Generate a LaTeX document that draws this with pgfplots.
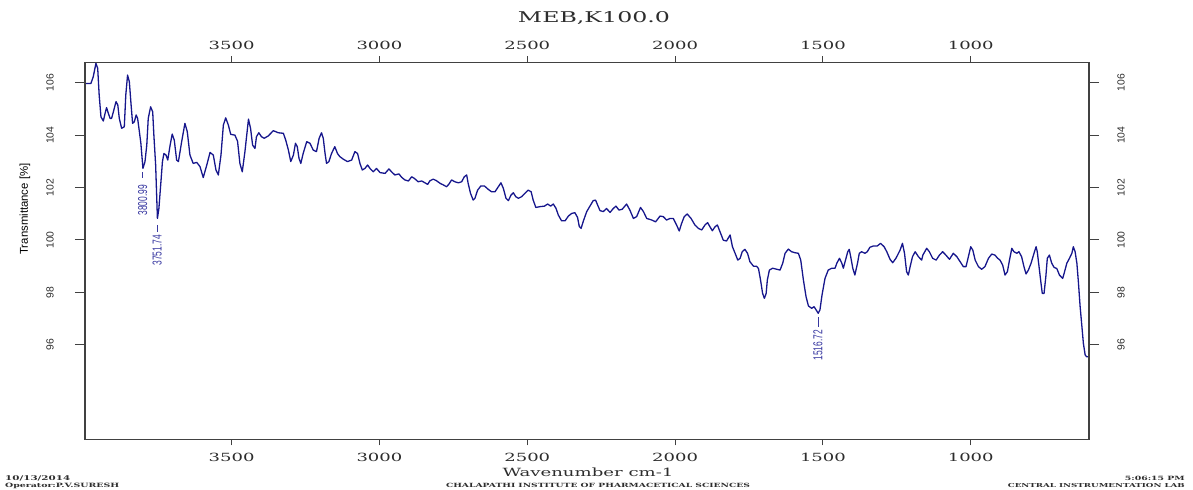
\documentclass[border=0pt]{standalone}
\usepackage{fontspec}
\setmainfont{Liberation Sans}
\newfontfamily\wserif[FakeStretch=1.6]{DejaVu Serif}
\newfontfamily\condsans[FakeStretch=0.65]{Liberation Sans}
\usepackage{graphicx}
\usepackage{pgfplots}
\pgfplotsset{compat=1.18}
\usepackage{pgfplotstable}
\definecolor{spec}{RGB}{22,22,140}
\definecolor{annot}{RGB}{55,55,160}
\definecolor{frame}{RGB}{65,65,65}
\definecolor{txt}{RGB}{45,45,45}

\pgfplotstableread{
wn T
3996 105.97
3976 105.97
3968 106.23
3959 106.74
3953 106.55
3948 105.53
3942 104.70
3934 104.54
3928 104.83
3923 105.05
3917 104.83
3911 104.64
3906 104.64
3900 104.89
3891 105.28
3885 105.15
3880 104.64
3872 104.26
3863 104.32
3858 105.53
3852 106.29
3846 106.04
3840 105.15
3835 104.45
3829 104.51
3823 104.77
3818 104.64
3812 104.13
3807 103.69
3800 102.73
3793 102.99
3787 103.62
3782 104.64
3774 105.08
3767 104.89
3763 104.00
3757 102.86
3751 100.82
3746 101.20
3740 102.09
3734 102.99
3729 103.30
3722 103.24
3716 103.05
3708 103.62
3701 104.04
3694 103.81
3686 103.05
3680 102.99
3669 103.75
3658 104.45
3650 104.13
3641 103.24
3630 102.92
3618 102.96
3607 102.80
3596 102.38
3584 102.86
3573 103.34
3562 103.24
3553 102.67
3545 102.48
3536 103.24
3528 104.38
3520 104.66
3511 104.38
3503 104.03
3489 104.00
3480 103.77
3472 102.92
3464 102.60
3455 103.37
3443 104.61
3436 104.26
3429 103.62
3421 103.49
3416 103.94
3408 104.09
3399 103.94
3390 103.88
3376 103.97
3359 104.17
3342 104.09
3325 104.07
3317 103.81
3308 103.43
3300 102.99
3291 103.24
3284 103.69
3278 103.56
3272 103.11
3266 102.92
3258 103.30
3246 103.75
3235 103.69
3224 103.43
3213 103.37
3204 103.88
3196 104.09
3190 103.88
3184 103.30
3179 102.92
3171 102.99
3162 103.30
3151 103.56
3142 103.30
3134 103.18
3122 103.08
3108 102.99
3094 103.05
3083 103.37
3074 103.30
3066 102.92
3058 102.67
3049 102.73
3040 102.86
3032 102.73
3021 102.60
3010 102.73
2998 102.57
2981 102.54
2968 102.71
2959 102.60
2948 102.48
2934 102.52
2925 102.39
2914 102.29
2902 102.25
2891 102.41
2882 102.35
2869 102.22
2857 102.25
2846 102.18
2837 102.12
2829 102.26
2818 102.32
2807 102.26
2795 102.16
2784 102.10
2773 102.03
2765 102.13
2756 102.29
2745 102.22
2733 102.18
2722 102.22
2713 102.41
2705 102.48
2700 102.16
2692 101.78
2683 101.52
2677 101.59
2668 101.90
2657 102.06
2645 102.06
2632 101.93
2621 101.84
2609 101.84
2598 102.03
2589 102.18
2581 101.97
2572 101.59
2564 101.50
2555 101.71
2547 101.80
2539 101.65
2530 101.59
2519 101.65
2508 101.78
2497 101.90
2487 101.84
2480 101.52
2471 101.24
2457 101.27
2442 101.29
2431 101.37
2421 101.29
2412 101.37
2403 101.21
2395 100.95
2384 100.73
2372 100.73
2361 100.91
2350 101.01
2339 101.04
2330 100.86
2324 100.51
2318 100.44
2310 100.73
2299 101.08
2288 101.29
2277 101.50
2269 101.52
2262 101.33
2254 101.12
2243 101.08
2232 101.20
2220 101.05
2209 101.20
2200 101.29
2190 101.14
2179 101.17
2164 101.37
2153 101.14
2141 100.82
2130 100.89
2117 101.24
2107 101.08
2096 100.82
2079 100.76
2066 100.69
2051 100.91
2040 100.89
2029 100.76
2017 100.82
2006 100.82
1995 100.57
1986 100.34
1978 100.63
1969 100.89
1959 100.99
1946 100.82
1933 100.57
1921 100.44
1910 100.38
1899 100.57
1890 100.66
1882 100.50
1874 100.35
1865 100.50
1857 100.57
1848 100.31
1837 99.99
1826 99.96
1814 100.19
1806 99.74
1797 99.49
1788 99.23
1780 99.30
1773 99.55
1764 99.64
1755 99.49
1747 99.17
1735 99.00
1724 98.99
1718 98.91
1711 98.47
1704 97.96
1698 97.77
1692 97.96
1688 98.47
1681 98.85
1670 98.92
1656 98.88
1645 98.85
1636 99.11
1628 99.49
1617 99.65
1606 99.55
1594 99.51
1583 99.49
1575 99.23
1566 98.47
1557 97.83
1549 97.48
1538 97.39
1530 97.45
1523 97.33
1516 97.20
1510 97.33
1503 97.90
1493 98.53
1482 98.85
1470 98.92
1459 98.92
1453 99.11
1444 99.30
1436 99.11
1431 98.92
1425 99.17
1416 99.55
1411 99.64
1406 99.36
1399 98.92
1392 98.66
1383 99.11
1377 99.49
1369 99.55
1358 99.49
1350 99.55
1341 99.72
1329 99.77
1316 99.77
1305 99.87
1293 99.74
1284 99.55
1273 99.26
1264 99.13
1253 99.30
1239 99.61
1231 99.87
1224 99.49
1217 98.79
1211 98.66
1205 98.98
1197 99.36
1188 99.55
1177 99.36
1166 99.23
1162 99.42
1149 99.68
1140 99.55
1129 99.30
1117 99.23
1106 99.42
1095 99.55
1084 99.42
1072 99.26
1059 99.49
1047 99.36
1036 99.17
1025 98.98
1016 98.98
1008 99.36
1000 99.74
993 99.61
985 99.23
974 98.98
963 98.88
952 98.98
940 99.30
929 99.46
918 99.42
909 99.30
901 99.23
892 99.04
884 98.66
876 98.79
869 99.23
861 99.68
854 99.55
844 99.49
837 99.55
828 99.36
820 98.98
813 98.70
805 98.85
796 99.11
786 99.49
779 99.74
775 99.55
769 98.98
763 98.41
758 97.96
752 97.96
746 98.60
741 99.30
734 99.42
726 99.11
718 98.95
709 98.91
700 98.66
689 98.53
684 98.73
675 99.11
666 99.30
658 99.49
653 99.74
647 99.55
641 99.11
636 98.41
630 97.45
625 96.82
619 96.05
613 95.61
608 95.54
600 95.54
}\spectrum

\pgfplotsset{
  irbase/.style={
    scale only axis, width=1004bp, height=377bp,
    at={(0,0)}, anchor=south west,
    xmin=600, xmax=3996, ymin=92.39, ymax=106.78,
    x dir=reverse,
    xtick={1000,1500,2000,2500,3000,3500},
    xticklabels={1000,1500,2000,2500,3000,3500},
    ytick={96,98,100,102,104,106},
    yticklabels={96,98,100,102,104,106},
    tick align=outside,
    xtick pos=both, ytick pos=both,
    axis line style={frame, line width=1.3bp},
    tick style={frame, line width=1bp},
    xticklabel style={font=\wserif\fontsize{11.3}{12}\selectfont, text=txt},
    yticklabel style={font=\fontsize{10.4}{11}\selectfont, text=txt},
  }
}

\begin{document}
\begin{tikzpicture}
\begin{axis}[irbase, name=main,
  major tick length=6bp,
  ytick style={draw=none},
  xticklabel pos=lower, yticklabel pos=left,
  xticklabel style={yshift=-4bp},
  yticklabel style={xshift=-29bp, rotate=90, anchor=center},
]
\addplot[spec, line width=1.3bp, line join=round] table[x=wn, y=T] {\spectrum};
% peak annotations
\draw[annot, line width=0.9bp] (axis cs:3800.99,102.59) -- (axis cs:3800.99,102.36);
\node[annot, rotate=90, anchor=east, inner sep=0pt, font=\condsans\fontsize{13}{14}\selectfont] at (axis cs:3800.99,102.10) {3800.99};
\draw[annot, line width=0.9bp] (axis cs:3751.74,100.57) -- (axis cs:3751.74,100.30);
\node[annot, rotate=90, anchor=east, inner sep=0pt, font=\condsans\fontsize{13}{14}\selectfont] at (axis cs:3751.74,100.19) {3751.74};
\draw[annot, line width=0.9bp] (axis cs:1516.72,97.05) -- (axis cs:1516.72,96.67);
\node[annot, rotate=90, anchor=east, inner sep=0pt, font=\condsans\fontsize{13}{14}\selectfont] at (axis cs:1516.72,96.56) {1516.72};
\end{axis}
\begin{axis}[irbase,
  major tick length=10bp,
  xtick style={draw=none},
  xticklabel pos=upper, yticklabel pos=right,
  xticklabel style={yshift=-1bp},
  yticklabel style={xshift=22bp, rotate=90, anchor=center},
]
\end{axis}
% titles and footer text
\node[anchor=center, text=txt] at ([shift={(509bp,421.3bp)}]main.south west) {\resizebox{152bp}{!}{\wserif MEB,K100.0}};
\node[anchor=center, text=txt] at ([shift={(503bp,-33bp)}]main.south west) {\resizebox{171bp}{!}{\wserif Wavenumber cm-1}};
\node[rotate=90, anchor=center, text=black, font=\fontsize{11.4}{12}\selectfont] at ([shift={(-60bp,230.3bp)}]main.south west) {Transmittance [\%]};
\node[anchor=west, inner sep=0pt, text=txt] at ([shift={(-80bp,-38.7bp)}]main.south west) {\resizebox{65bp}{!}{\wserif\bfseries 10/13/2014}};
\node[anchor=west, inner sep=0pt, text=txt] at ([shift={(-80bp,-46.5bp)}]main.south west) {\resizebox{114bp}{!}{\wserif\bfseries Operator:P.V.SURESH}};
\node[anchor=center, inner sep=0pt, text=txt] at ([shift={(513bp,-46.5bp)}]main.south west) {\resizebox{304bp}{!}{\wserif\bfseries CHALAPATHI INSTITUTE OF PHARMACETICAL SCIENCES}};
\node[anchor=east, inner sep=0pt, text=txt] at ([shift={(1100bp,-38.7bp)}]main.south west) {\resizebox{60bp}{!}{\wserif\bfseries 5:06:15 PM}};
\node[anchor=east, inner sep=0pt, text=txt] at ([shift={(1100bp,-46.5bp)}]main.south west) {\resizebox{177bp}{!}{\wserif\bfseries CENTRAL INSTRUMENTATION LAB}};
\pgfresetboundingbox
\useasboundingbox ([shift={(-85bp,-50.7bp)}]main.south west) rectangle ++(1193bp,490bp);
\end{tikzpicture}
\end{document}
